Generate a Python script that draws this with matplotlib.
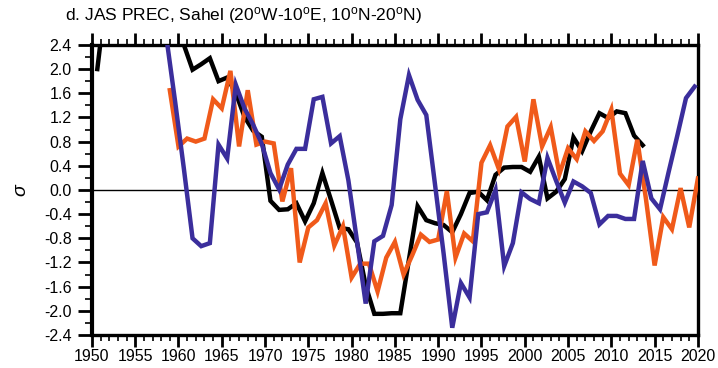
import numpy as np
import matplotlib
matplotlib.use("Agg")
import matplotlib.pyplot as plt
from matplotlib.ticker import MultipleLocator, FixedLocator

plt.rcParams['font.family'] = ['Liberation Sans', 'DejaVu Sans']
plt.rcParams['mathtext.fontset'] = 'custom'
plt.rcParams['mathtext.rm'] = 'Liberation Sans'
plt.rcParams['mathtext.it'] = 'Liberation Sans:italic'

# Standardised JAS precipitation anomalies (sigma units)
black_years = np.arange(1950, 2014)
black_vals = [2.00, 3.20, 2.90, 3.10, 2.90, 2.80, 3.00, 3.10, 2.90, 2.80,
              2.40, 1.99, 2.08, 2.18, 1.80, 1.86, 1.60, 1.21, 0.98, 0.88,
              -0.18, -0.33, -0.32, -0.22, -0.52, -0.22, 0.28, -0.17, -0.63, -0.65,
              -0.87, -1.58, -2.05, -2.05, -2.04, -2.04, -1.15, -0.27, -0.50, -0.55,
              -0.58, -0.70, -0.40, -0.05, -0.03, -0.17, 0.25, 0.37, 0.38, 0.38,
              0.30, 0.55, -0.14, -0.03, 0.18, 0.87, 0.64, 0.97, 1.27, 1.19,
              1.30, 1.27, 0.90, 0.74]

orange_years = np.arange(1959, 2021)
orange_vals = [1.65, 0.72, 0.85, 0.80, 0.85, 1.50, 1.35, 1.97, 0.72, 1.65,
               0.75, 0.80, 0.77, -0.19, 0.36, -1.20, -0.62, -0.50, -0.22, -0.92,
               -0.60, -1.45, -1.22, -1.22, -1.68, -1.12, -0.86, -1.40, -1.08, -0.74,
               -0.86, -0.82, -0.02, -1.12, -0.72, -0.85, 0.45, 0.74, 0.35, 1.05,
               1.21, 0.47, 1.50, 0.72, 1.04, 0.26, 0.69, 0.51, 0.97, 0.81,
               0.97, 1.33, 0.27, 0.08, 0.83, -0.15, -1.25, -0.45, -0.65, 0.03,
               -0.62, 0.19]

blue_years = np.arange(1958, 2020)
blue_vals = [2.50, 1.45, 0.35, -0.80, -0.93, -0.88, 0.75, 0.52, 1.74, 1.35,
             1.08, 0.76, 0.28, 0.01, 0.42, 0.68, 0.68, 1.50, 1.54, 0.77,
             0.89, 0.16, -0.85, -1.88, -0.85, -0.76, -0.25, 1.17, 1.90, 1.49,
             1.24, 0.10, -1.05, -2.28, -1.54, -1.78, -0.40, -0.37, 0.00, -1.26,
             -0.88, -0.04, -0.15, -0.22, 0.53, 0.15, -0.21, 0.14, 0.06, -0.05,
             -0.57, -0.43, -0.43, -0.48, -0.48, 0.48, -0.14, -0.32, 0.30, 0.90,
             1.52, 1.71]

x_ticks = list(range(1950, 2021, 5))
y_ticks = [-2.4, -2.0, -1.6, -1.2, -0.8, -0.4, 0.0, 0.4, 0.8, 1.2, 1.6, 2.0, 2.4]

# seasonal-centre offset for the JAS means (mid-August)
season_offset = 7.5 / 12

fig = plt.figure(figsize=(7.18, 3.68), dpi=100)
ax = fig.add_axes([0.128, 0.0897, 0.844, 0.7883])

ax.axhline(0.0, color='black', lw=1.0, zorder=1)
ax.plot(black_years + season_offset, black_vals, color='black', lw=3.2,
        solid_joinstyle='miter', zorder=2)
ax.plot(orange_years, orange_vals, color='#F05A1A', lw=3.2,
        solid_joinstyle='miter', zorder=3)
ax.plot(blue_years + season_offset, blue_vals, color='#3B2E9C', lw=3.2,
        solid_joinstyle='miter', zorder=4)

ax.set_xlim(1950, 2020)
ax.set_ylim(-2.4, 2.4)

ax.xaxis.set_major_locator(FixedLocator(x_ticks))
ax.xaxis.set_minor_locator(MultipleLocator(1))
ax.yaxis.set_major_locator(FixedLocator(y_ticks))
ax.yaxis.set_minor_locator(MultipleLocator(0.2))
ax.set_xticklabels([str(v) for v in x_ticks])
ax.set_yticklabels([f"{v:.1f}" for v in y_ticks])

ax.tick_params(axis='x', which='major', direction='out', length=8.5, width=2.0,
               top=True, bottom=True, labelsize=11.5, pad=1.5)
ax.tick_params(axis='x', which='minor', direction='out', length=4.5, width=1.2,
               top=True, bottom=True)
ax.tick_params(axis='y', which='major', direction='out', length=10, width=2.0,
               left=True, right=False, labelsize=11.5, pad=4.5)
ax.tick_params(axis='y', which='minor', direction='out', length=5, width=1.2,
               left=True, right=False)

for side in ['left', 'right', 'top', 'bottom']:
    ax.spines[side].set_linewidth(2.4)
ax.spines['left'].set_linewidth(3.0)

ax.set_ylabel(r'$\sigma$', fontsize=14, labelpad=10)

fig.text(0.0905, 0.958,
         r'd. JAS PREC, Sahel (20$^{\rm o}$W-10$^{\rm o}$E, 10$^{\rm o}$N-20$^{\rm o}$N)',
         fontsize=12.5, ha='left', va='center')

fig.savefig('out.png', dpi=100)
